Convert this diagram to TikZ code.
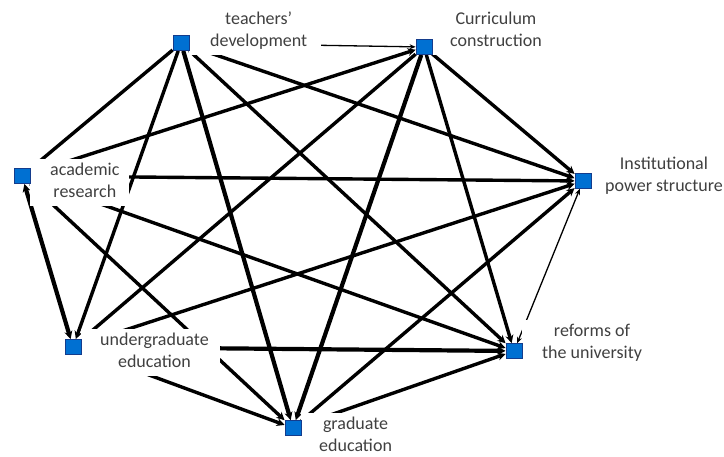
\documentclass[tikz,border=0pt]{standalone}
\usepackage{fontspec}
\setmainfont{Carlito}
\usetikzlibrary{arrows.meta}
\definecolor{sqblue}{RGB}{0,112,210}
\definecolor{sqedge}{RGB}{20,60,140}
\definecolor{txtgray}{RGB}{64,64,64}
\tikzset{
  sq/.style={draw=sqedge, fill=sqblue, line width=0.8pt, minimum width=16pt, minimum height=15pt, inner sep=0pt},
  lbl/.style={fill=white, text=txtgray, inner ysep=2pt, font=\fontsize{18}{21.5}\selectfont},
  edge/.style={line width=3.4pt, -{Stealth[length=8pt,width=8pt]}},
  bedge/.style={line width=4.2pt, -{Stealth[length=8pt,width=8pt]}},
  thinedge/.style={line width=1.3pt, -{Stealth[length=6pt,width=5pt]}},
}
\newcommand{\twolines}[3]{\hspace*{#1}\begin{tabular}{@{}c@{}}#2\\#3\end{tabular}}
\begin{document}
\begin{tikzpicture}[x=1pt,y=-1pt]
\useasboundingbox (0,0) rectangle (724,456);
% squares
\node[sq] (T) at (181,43) {};
\node[sq] (C) at (424,47) {};
\node[sq] (I) at (583,181) {};
\node[sq] (R) at (514,351) {};
\node[sq] (G) at (293,428) {};
\node[sq] (U) at (73,347) {};
\node[sq] (A) at (22,176) {};
% edges
\draw[thinedge] (T) -- (C);
\draw[edge] (T) -- (I);
\draw[edge] (T) -- (R);
\draw[bedge] (T) -- (G);
\draw[edge] (T) -- (U);
\draw[edge] (T) -- (A);
\draw[edge] (A) -- (C);
\draw[edge] (C) -- (U);
\draw[bedge] (C) -- (G);
\draw[edge] (C) -- (R);
\draw[edge] (C) -- (I);
\draw[edge] (A) -- (I);
\draw[edge] (A) -- (R);
\draw[bedge, {Stealth[length=8pt,width=8pt]}-{Stealth[length=8pt,width=8pt]}] (A) -- (U);
\draw[edge] (A) -- (G);
\draw[edge] (U) -- (I);
\draw[bedge] (U) -- (R);
\draw[edge] (U) -- (G);
\draw[edge] (G) -- (I);
\draw[edge] (G) -- (R);
\draw[thinedge, {Stealth[length=6pt,width=5pt]}-{Stealth[length=6pt,width=5pt]}] (R) -- (I);
% labels (west edge of each white box meets its square)
\node[lbl, inner xsep=14pt, anchor=west] (Tl) at (189,31) {\twolines{7pt}{teachers'}{development}};
\node[lbl, inner xsep=14pt, anchor=west] (Cl) at (432,31) {\twolines{4pt}{Curriculum}{construction}};
\node[lbl, inner xsep=10pt, anchor=west] (Al) at (30,182) {\twolines{10pt}{academic}{research}};
\node[lbl, inner xsep=14pt, anchor=west] (Il) at (591,176) {\twolines{0pt}{Institutional}{power structure}};
\node[lbl, inner xsep=11pt, anchor=west] (Ul) at (81,352) {\twolines{8pt}{undergraduate}{education}};
\node[lbl, inner xsep=14pt, anchor=west] (Rl) at (522,343) {\twolines{6pt}{reforms of}{the university}};
\node[lbl, inner xsep=14pt, anchor=west] (Gl) at (301,436) {\twolines{4pt}{graduate}{education}};
% squares on top
\node[sq] at (T) {};
\node[sq] at (C) {};
\node[sq] at (I) {};
\node[sq] at (R) {};
\node[sq] at (G) {};
\node[sq] at (U) {};
\node[sq] at (A) {};
\end{tikzpicture}
\end{document}
